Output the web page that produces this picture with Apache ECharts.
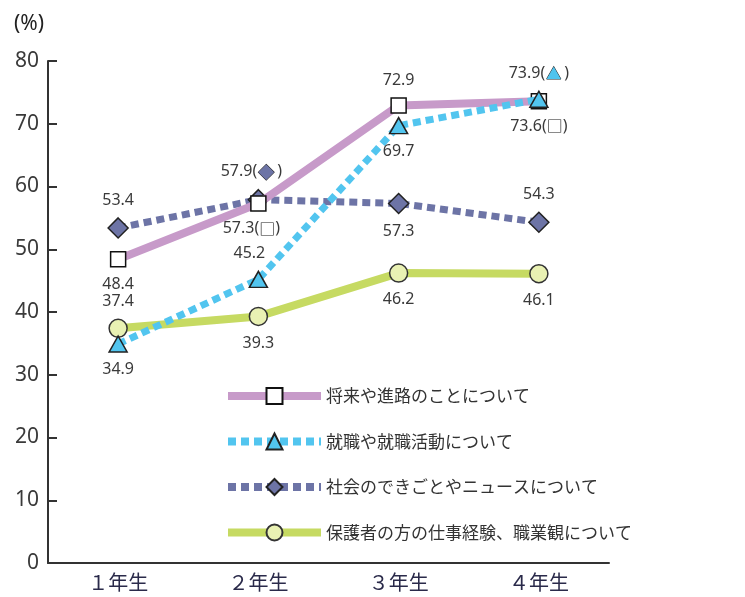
<!DOCTYPE html>
<html><head><meta charset="utf-8">
<script src="https://cdn.jsdelivr.net/npm/echarts@6/dist/echarts.min.js"></script>
<style>html,body{margin:0;padding:0;background:#fff}#c{width:745px;height:597px}</style>
</head><body><div id="c"></div>
<script>
const categories = ['１年生', '２年生', '３年生', '４年生'];
const seriesNames = ['将来や進路のことについて', '就職や就職活動について', '社会のできごとやニュースについて', '保護者の方の仕事経験、職業観について'];
const shourai = [48.4, 57.3, 72.9, 73.6];
const shushoku = [34.9, 45.2, 69.7, 73.9];
const shakai = [53.4, 57.9, 57.3, 54.3];
const hogosha = [37.4, 39.3, 46.2, 46.1];
const yTicks = [0, 10, 20, 30, 40, 50, 60, 70, 80];

// label placement (not data)
const pos = {
  shourai: [['bottom',0],['bottom',-7,'□'],['top',0],['bottom',0,'□']],
  shushoku: [['bottom',0],['top',-9],['bottom',0],['top',0,'▲']],
  shakai: [['top',0],['top',-7,'◆'],['bottom',0],['top',0]],
  hogosha: [['top',0],['bottom',0],['bottom',0],['bottom',0]]
};
const rich = {
  sq: {color:'#111', fontSize:16, fontFamily:'Noto Sans CJK JP'},
  tri: {color:'#4fc3ee', textBorderColor:'#222', textBorderWidth:1, fontSize:15, fontFamily:'Noto Sans CJK JP', padding:[0,3,0,1]},
  dia: {color:'#6d74a6', textBorderColor:'#222', textBorderWidth:1, fontSize:16, fontFamily:'Noto Sans CJK JP', padding:[0,3,0,1]}
};
function mk(vals, p) {
  return vals.map((v, i) => {
    const [position, dx, glyph] = p[i];
    let fmt = String(v.toFixed(1));
    if (glyph === '□') fmt += '({sq|□})';
    if (glyph === '▲') fmt += '({tri|▲})';
    if (glyph === '◆') fmt += '({dia|◆})';
    return {value: v, label: {position, offset: [dx, 0], formatter: fmt}};
  });
}
const baseLabel = {show: true, fontSize: 16, color: '#3a3a3a', fontFamily: 'Noto Sans', distance: 9, rich};

const chart = echarts.init(document.getElementById('c'));
chart.setOption({
  animation: false,
  grid: {left: 48, right: 136, top: 61, bottom: 34},
  graphic: [{type: 'text', left: 14, top: 14, style: {text: '(%)', fontSize: 21, fill: '#222', fontFamily: 'Noto Sans'}}],
  xAxis: {
    type: 'category', data: categories, boundaryGap: true,
    axisLine: {lineStyle: {color: '#333', width: 2}},
    axisTick: {inside: true, length: 9, lineStyle: {color: '#333', width: 2}},
    axisLabel: {fontSize: 20, color: '#2a2a4a', margin: 9, fontFamily: 'Noto Sans CJK JP'}
  },
  yAxis: {
    type: 'value', min: yTicks[0], max: yTicks[yTicks.length - 1], interval: 10,
    axisLine: {show: true, lineStyle: {color: '#333', width: 2}},
    axisTick: {show: true, inside: true, length: 9, lineStyle: {color: '#333', width: 2}},
    splitLine: {show: false},
    axisLabel: {fontSize: 21, color: '#3a3a3a', margin: 9, fontFamily: 'Noto Sans'}
  },
  legend: {
    orient: 'vertical', left: 224, top: 387, padding: 0, itemWidth: 93, itemHeight: 20, itemGap: 27.5,
    lineStyle: {width: 8},
    textStyle: {fontSize: 17, color: '#333', fontFamily: 'Noto Sans CJK JP'},
    data: seriesNames
  },
  series: [
    {name: seriesNames[0], type: 'line', data: mk(shourai, pos.shourai), z: 3,
     lineStyle: {color: '#c79ac9', width: 8}, itemStyle: {color: '#fff', borderColor: '#111', borderWidth: 1.5},
     symbol: 'rect', symbolSize: 15, showAllSymbol: true, label: baseLabel},
    {name: seriesNames[1], type: 'line', data: mk(shushoku, pos.shushoku), z: 4,
     lineStyle: {color: '#52c5ef', width: 7, type: [8, 5], cap: 'butt'}, itemStyle: {color: '#52c5ef', borderColor: '#222', borderWidth: 1.5},
     symbol: 'triangle', symbolSize: [18, 16], label: baseLabel},
    {name: seriesNames[2], type: 'line', data: mk(shakai, pos.shakai), z: 2,
     lineStyle: {color: '#6d74a6', width: 7, type: [8, 5], cap: 'butt'}, itemStyle: {color: '#6d74a6', borderColor: '#222', borderWidth: 1.5},
     symbol: 'diamond', symbolSize: [20, 20], label: baseLabel},
    {name: seriesNames[3], type: 'line', data: mk(hogosha, pos.hogosha), z: 2,
     lineStyle: {color: '#c6da62', width: 8}, itemStyle: {color: '#e9f1b3', borderColor: '#333', borderWidth: 1.5},
     symbol: 'circle', symbolSize: 18, label: baseLabel}
  ]
});
</script></body></html>
